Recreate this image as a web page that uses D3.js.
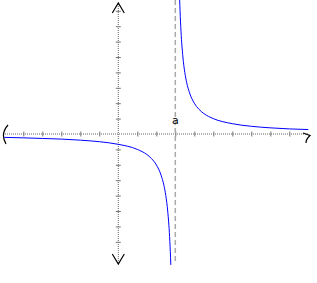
<!DOCTYPE html>
<html><head><meta charset="utf-8">
<script src="https://cdn.jsdelivr.net/npm/d3@7"></script>
<style>html,body{margin:0;padding:0;background:#fff;}svg{display:block;}</style>
</head><body>
<script>
// Data
const asymptoteX = 3;
const asymptoteLabel = "a";
const xTicks = [-5,-4,-3,-2,-1,1,2,3,4,5,6,7,8,9];
const yTicks = [-7,-6,-5,-4,-3,-2,-1,1,2,3,4,5,6,7,8];
const leftX = [-6,-5,-4,-3,-2,-1,0,1,1.5,1.75,2,2.25,2.4,2.5,2.6,2.7,2.75,2.765];
const leftY = [-0.22,-0.25,-0.29,-0.33,-0.4,-0.5,-0.67,-1.0,-1.33,-1.6,-2.0,-2.67,-3.33,-4.0,-5.0,-6.67,-8.0,-8.5];
const rightX = [3.23,3.25,3.3,3.4,3.5,3.6,3.75,4,4.25,4.5,5,6,7,8,9,10];
const rightY = [8.7,8.0,6.67,5.0,4.0,3.33,2.67,2.0,1.6,1.33,1.0,0.67,0.5,0.4,0.33,0.29];

const W = 317, H = 283;
const svg = d3.select("body").append("svg").attr("width", W).attr("height", H);
const x = d3.scaleLinear().domain([-6,10]).range([4.3,308.3]);
const y = d3.scaleLinear().domain([-8,8]).range([257.2,10.8]);

// axes lines (dotted gray)
svg.append("line").attr("x1",3).attr("x2",309).attr("y1",y(0)).attr("y2",y(0))
  .attr("stroke","#666").attr("stroke-dasharray","1,1");
svg.append("line").attr("x1",x(0)).attr("x2",x(0)).attr("y1",4).attr("y2",263)
  .attr("stroke","#666").attr("stroke-dasharray","1,1");

// ticks via d3 axes
const gx = svg.append("g").attr("transform",`translate(0,${y(0)})`)
  .call(d3.axisBottom(x).tickValues(xTicks).tickSize(5).tickFormat(""));
gx.select(".domain").remove();
gx.selectAll(".tick line").attr("y1",-2.5).attr("y2",2.5).attr("stroke","#777");
const gy = svg.append("g").attr("transform",`translate(${x(0)},0)`)
  .call(d3.axisLeft(y).tickValues(yTicks).tickSize(5).tickFormat(""));
gy.select(".domain").remove();
gy.selectAll(".tick line").attr("x1",-2.5).attr("x2",2.5).attr("stroke","#777");

// arrowheads
const arr = svg.append("g").attr("fill","none").attr("stroke","#000").attr("stroke-width",1.2);
const cx = x(0), cy = y(0);
arr.append("path").attr("d",`M${cx-6},13 L${cx},3 L${cx+6},13`);
arr.append("path").attr("d",`M${cx-6},254 L${cx},264 L${cx+6},254`);
arr.append("path").attr("d",`M8,${cy-9} Q0,${cy} 6,${cy+10}`);
arr.append("path").attr("d",`M303,${cy-1} L310,${cy+1.5} Q306,${cy+5} 306,${cy+9}`);

// asymptote
svg.append("line").attr("x1",x(asymptoteX)).attr("x2",x(asymptoteX)).attr("y1",0).attr("y2",264)
  .attr("stroke","#aaa").attr("stroke-width",1.5).attr("stroke-dasharray","5,3");
svg.append("text").attr("x",x(asymptoteX)).attr("y",cy-10).attr("text-anchor","middle")
  .attr("font-family","DejaVu Sans, sans-serif").attr("font-size",11).text(asymptoteLabel);

// curve
const line = d3.line().x(d=>x(d[0])).y(d=>y(d[1])).curve(d3.curveMonotoneX);
svg.append("path").datum(leftX.map((v,i)=>[v,leftY[i]])).attr("d",line)
  .attr("fill","none").attr("stroke","#0000ff").attr("stroke-width",1);
svg.append("path").datum(rightX.map((v,i)=>[v,rightY[i]])).attr("d",line)
  .attr("fill","none").attr("stroke","#0000ff").attr("stroke-width",1);
</script>
</body></html>
